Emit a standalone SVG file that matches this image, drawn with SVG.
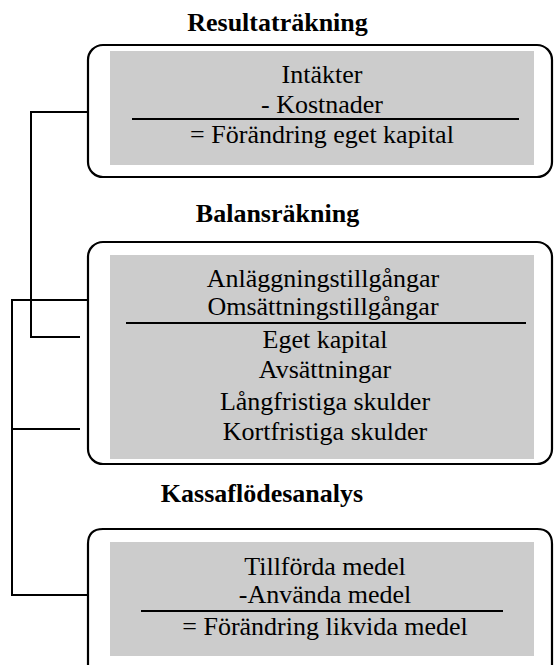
<svg xmlns="http://www.w3.org/2000/svg" width="554" height="665" viewBox="0 0 554 665">
<style>
.box{fill:#fff;stroke:#000;stroke-width:2.2}
.gray{fill:#cccccc}
.t{font-size:26px;fill:#000;text-anchor:middle}
.h{font-size:26px;font-weight:bold;fill:#000;text-anchor:middle}
.rule{stroke:#000;stroke-width:2}
.c{fill:none;stroke:#000;stroke-width:2}
</style>
<rect width="554" height="665" fill="#fff"/>
<g font-family="Liberation Serif, Times New Roman, Tinos, DejaVu Serif, serif">
<g id="resultat">
<text class="h" x="277.5" y="31">Resultaträkning</text>
<rect class="box" x="88" y="45" width="464" height="132" rx="15"/>
<rect class="gray" x="110" y="51" width="424" height="114"/>
<text class="t" x="322" y="83">Intäkter</text>
<text class="t" x="322" y="113">- Kostnader</text>
<line class="rule" x1="132" y1="119" x2="519" y2="119"/>
<text class="t" x="322" y="143">= Förändring eget kapital</text>
</g>
<g id="balans">
<text class="h" x="277.5" y="222">Balansräkning</text>
<rect class="box" x="88" y="242" width="464" height="222" rx="15"/>
<rect class="gray" x="110" y="255" width="424" height="204"/>
<text class="t" x="323" y="287">Anläggningstillgångar</text>
<text class="t" x="323" y="315">Omsättningstillgångar</text>
<line class="rule" x1="126" y1="323" x2="526" y2="323"/>
<text class="t" x="325" y="348">Eget kapital</text>
<text class="t" x="325" y="378">Avsättningar</text>
<text class="t" x="325" y="410">Långfristiga skulder</text>
<text class="t" x="325" y="440">Kortfristiga skulder</text>
</g>
<g id="kassaflode">
<text class="h" x="262" y="502">Kassaflödesanalys</text>
<path class="box" d="M88 680 V544 Q88 529 103 529 H537 Q552 529 552 544 V680"/>
<rect class="gray" x="110" y="542" width="424" height="114"/>
<text class="t" x="325" y="575">Tillförda medel</text>
<text class="t" x="325" y="603">-Använda medel</text>
<line class="rule" x1="141" y1="611" x2="503" y2="611"/>
<text class="t" x="325" y="635">= Förändring likvida medel</text>
</g>
</g>
<g id="connectors">
<polyline class="c" points="88,112 31,112 31,337 80,337"/>
<polyline class="c" points="88,300 12,300 12,595 88,595"/>
<line class="c" x1="12" y1="429" x2="80" y2="429"/>
</g>
</svg>
